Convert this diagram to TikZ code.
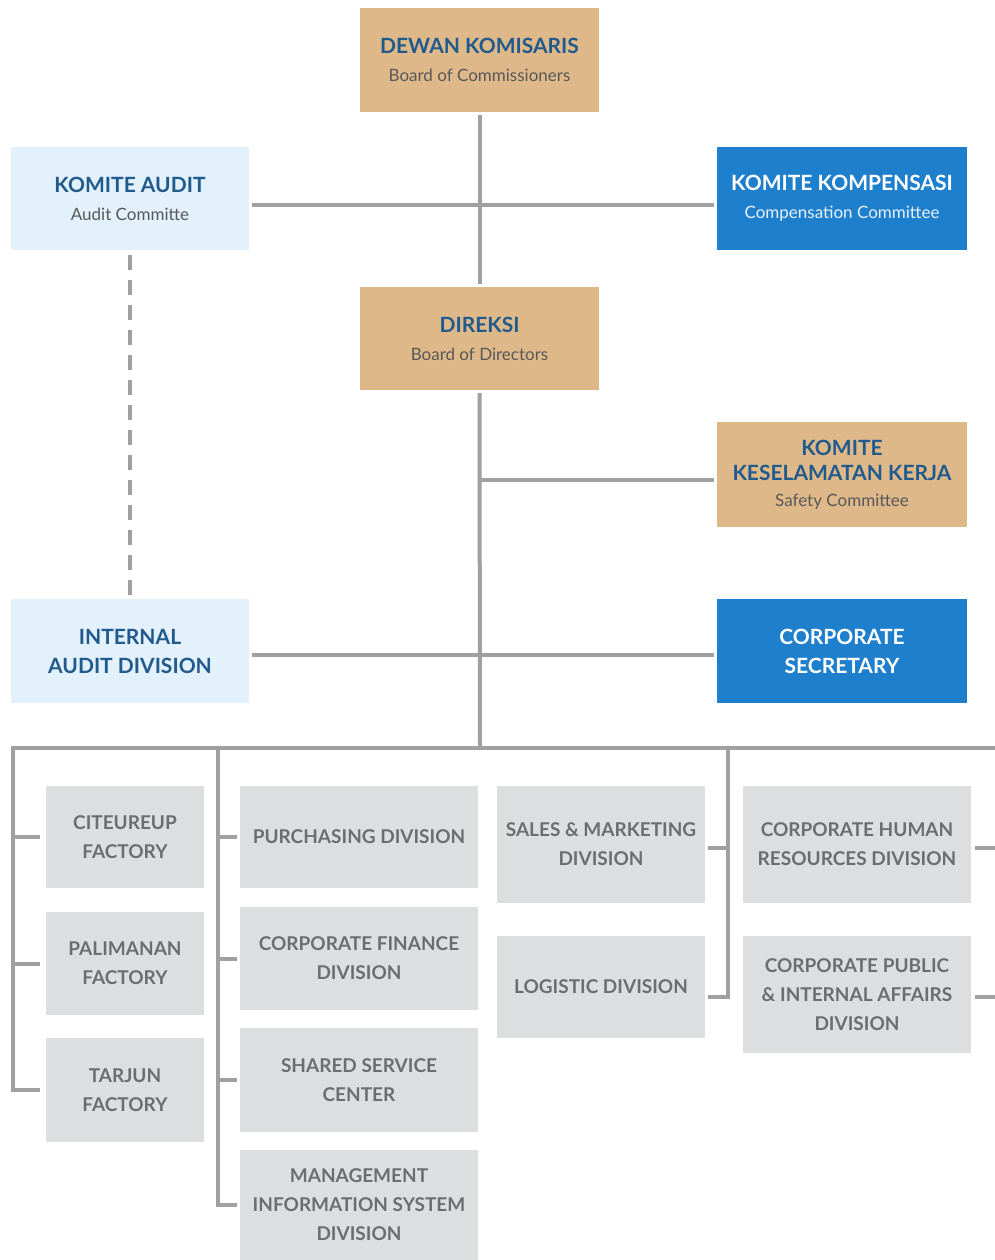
\documentclass[tikz,border=0pt]{standalone}
\usepackage{fontspec}
\setmainfont{Lato}
\definecolor{tanc}{RGB}{222,184,136}
\definecolor{lbluec}{RGB}{226,241,252}
\definecolor{dbluec}{RGB}{30,127,204}
\definecolor{navyc}{RGB}{33,90,140}
\definecolor{subc}{RGB}{88,88,88}
\definecolor{subw}{RGB}{232,242,252}
\definecolor{greyc}{RGB}{220,222,224}
\definecolor{greytext}{RGB}{107,110,112}
\definecolor{linec}{RGB}{160,160,160}
\tikzset{
  base/.style={rectangle, inner sep=0pt, align=center, font=\fontsize{21}{28}\selectfont},
  tanbox/.style={base, fill=tanc, text=navyc},
  lbbox/.style={base, fill=lbluec, text=navyc},
  dbbox/.style={base, fill=dbluec, text=white},
  gbox/.style={rectangle, inner sep=0pt, align=center, fill=greyc, text=greytext, font=\fontsize{19}{29}\selectfont\bfseries},
  conn/.style={draw=linec, line width=4pt},
  gapped/.style={shorten <=3pt, shorten >=3pt},
}
\newcommand{\subt}[1]{{\fontsize{17}{28}\selectfont\mdseries\color{subc}#1}}
\newcommand{\subtw}[1]{{\fontsize{17}{28}\selectfont\mdseries\color{subw}#1}}
\begin{document}
\begin{tikzpicture}[x=1pt,y=-1pt]
\useasboundingbox (0,0) rectangle (995,1260);
% top level
\node[tanbox, minimum width=239pt, minimum height=104pt] (dk) at (479.5,60) {\textbf{DEWAN KOMISARIS}\\\subt{Board of Commissioners}};
\node[lbbox, minimum width=238pt, minimum height=103pt] (ka) at (130,198.5) {\textbf{KOMITE AUDIT}\\\subt{Audit Committe}};
\node[dbbox, minimum width=250pt, minimum height=103pt] (kk) at (842,198.5) {\textbf{KOMITE KOMPENSASI}\\\subtw{Compensation Committee}};
\node[tanbox, minimum width=239pt, minimum height=103pt] (dir) at (479.5,338.5) {\textbf{DIREKSI}\\\subt{Board of Directors}};
\node[tanbox, minimum width=250pt, minimum height=105pt, font=\fontsize{21}{25.5}\selectfont] (ks) at (842,474.5) {\textbf{KOMITE}\\\textbf{KESELAMATAN KERJA}\\\subt{Safety Committee}};
\node[lbbox, minimum width=238pt, minimum height=104pt, font=\fontsize{21}{29}\selectfont\bfseries] (iad) at (130,651) {INTERNAL\\AUDIT DIVISION};
\node[dbbox, minimum width=250pt, minimum height=104pt, font=\fontsize{21}{29}\selectfont\bfseries] (cs) at (842,651) {CORPORATE\\SECRETARY};
% bottom boxes
\node[gbox, minimum width=158pt, minimum height=102pt] (cit) at (125,837) {CITEUREUP\\FACTORY};
\node[gbox, minimum width=158pt, minimum height=103pt] (pal) at (125,963.5) {PALIMANAN\\FACTORY};
\node[gbox, minimum width=158pt, minimum height=104pt] (tar) at (125,1090) {TARJUN\\FACTORY};
\node[gbox, minimum width=238pt, minimum height=102pt] (pur) at (359,837) {PURCHASING DIVISION};
\node[gbox, minimum width=238pt, minimum height=103pt] (fin) at (359,958.5) {CORPORATE FINANCE\\DIVISION};
\node[gbox, minimum width=238pt, minimum height=104pt] (ssc) at (359,1080) {SHARED SERVICE\\CENTER};
\node[gbox, minimum width=238pt, minimum height=110pt] (mis) at (359,1205) {MANAGEMENT\\INFORMATION SYSTEM\\DIVISION};
\node[gbox, minimum width=208pt, minimum height=117pt] (sal) at (601,844.5) {SALES \& MARKETING\\DIVISION};
\node[gbox, minimum width=208pt, minimum height=102pt] (log) at (601,987) {LOGISTIC DIVISION};
\node[gbox, minimum width=228pt, minimum height=117pt] (hr) at (857,844.5) {CORPORATE HUMAN\\RESOURCES DIVISION};
\node[gbox, minimum width=228pt, minimum height=117pt] (pub) at (857,994.5) {CORPORATE PUBLIC\\\& INTERNAL AFFAIRS\\DIVISION};
% junction coordinates
\coordinate (j1) at (480,205);
\coordinate (j2) at (480,480);
\coordinate (j3) at (480,655);
\coordinate (bus) at (480,748);
\coordinate (busL) at (11,748);
\coordinate (busR) at (995,748);
\coordinate (c1) at (13,748);
\coordinate (c2) at (218,748);
\coordinate (c3) at (728,748);
\coordinate (r1) at (995,848);
\coordinate (r2) at (995,997);
% connectors
\draw[conn, gapped] (dk.south) -- (dir.north);
\draw[conn, gapped] (ka.east |- j1) -- (kk.west |- j1);
\draw[conn, dash pattern=on 15pt off 10pt, shorten <=5pt, shorten >=4pt] (ka.south) -- (iad.north);
\draw[conn, shorten <=3pt] (dir.south) -- (bus);
\draw[conn, shorten >=3pt] (j2) -- (ks.west |- j2);
\draw[conn, gapped] (iad.east |- j3) -- (cs.west |- j3);
\draw[conn] (busL) -- (busR);
% column 1
\draw[conn] (c1) -- (c1 |- tar.west) -- ([xshift=-6pt]tar.west);
\draw[conn] (c1 |- cit.west) -- ([xshift=-6pt]cit.west);
\draw[conn] (c1 |- pal.west) -- ([xshift=-6pt]pal.west);
% column 2
\draw[conn] (c2) -- (c2 |- mis.west) -- ([xshift=-3pt]mis.west);
\draw[conn] (c2 |- pur.west) -- ([xshift=-3pt]pur.west);
\draw[conn] (c2 |- fin.west) -- ([xshift=-3pt]fin.west);
\draw[conn] (c2 |- ssc.west) -- ([xshift=-3pt]ssc.west);
% column 3
\draw[conn] (c3) -- (c3 |- r2) -- ([xshift=3pt]log.east |- r2);
\draw[conn] (c3 |- r1) -- ([xshift=3pt]sal.east |- r1);
% right column
\draw[conn] ([xshift=4pt]hr.east |- r1) -- (r1);
\draw[conn] ([xshift=4pt]pub.east |- r2) -- (r2);
\end{tikzpicture}
\end{document}
